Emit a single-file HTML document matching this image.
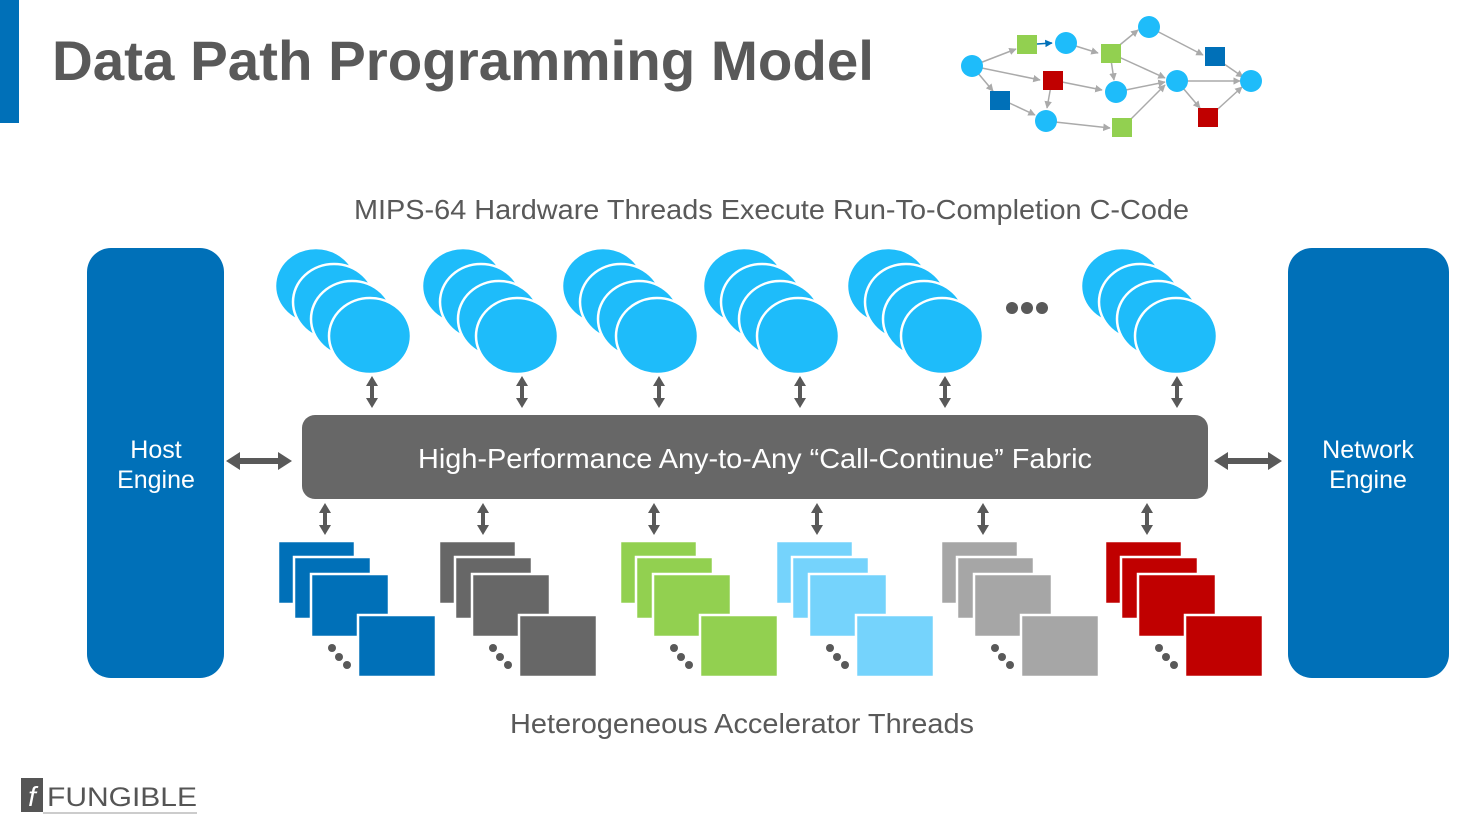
<!DOCTYPE html>
<html><head><meta charset="utf-8"><style>
body{margin:0;background:#fff;width:1466px;height:821px;overflow:hidden}
svg{display:block}
text{font-family:"Liberation Sans",Arial,sans-serif}
</style></head><body>
<svg width="1466" height="821" viewBox="0 0 1466 821" xmlns="http://www.w3.org/2000/svg">
<defs>
<marker id="g" viewBox="0 0 10 10" refX="9" refY="5" markerWidth="5" markerHeight="5" orient="auto"><path d="M0,0L10,5L0,10z" fill="#aaa"/></marker>
<marker id="b" viewBox="0 0 10 10" refX="9" refY="5" markerWidth="5" markerHeight="5" orient="auto"><path d="M0,0L10,5L0,10z" fill="#0070b8"/></marker>
</defs>
<rect x="0" y="0" width="19" height="123" fill="#0070b8"/>
<text x="52" y="80" font-size="56" font-weight="bold" fill="#595959" textLength="822" lengthAdjust="spacingAndGlyphs">Data Path Programming Model</text>
<g stroke="#aaa" stroke-width="1.5" fill="none" marker-end="url(#g)">
<line x1="972" y1="66" x2="1016" y2="49"/>
<line x1="972" y1="66" x2="1040" y2="80"/>
<line x1="972" y1="66" x2="993" y2="91"/>
<line x1="1005" y1="101" x2="1035" y2="115"/>
<line x1="1052" y1="80" x2="1102" y2="90"/>
<line x1="1052" y1="80" x2="1047" y2="108"/>
<line x1="1066" y1="43" x2="1098" y2="53"/>
<line x1="1110" y1="53" x2="1138" y2="30"/>
<line x1="1110" y1="53" x2="1114" y2="80"/>
<line x1="1110" y1="53" x2="1165" y2="78"/>
<line x1="1116" y1="92" x2="1165" y2="82"/>
<line x1="1046" y1="121" x2="1110" y2="128"/>
<line x1="1122" y1="128" x2="1165" y2="85"/>
<line x1="1149" y1="27" x2="1203" y2="55"/>
<line x1="1214" y1="57" x2="1243" y2="77"/>
<line x1="1177" y1="81" x2="1240" y2="81"/>
<line x1="1177" y1="81" x2="1200" y2="108"/>
<line x1="1208" y1="118" x2="1242" y2="87"/>
</g>
<line x1="1037" y1="44" x2="1052" y2="43" stroke="#0070b8" stroke-width="1.5" marker-end="url(#b)"/>
<g fill="#1ebcfa">
<circle cx="972" cy="66" r="11"/><circle cx="1066" cy="43" r="11"/><circle cx="1149" cy="27" r="11"/>
<circle cx="1116" cy="92" r="11"/><circle cx="1046" cy="121" r="11"/><circle cx="1177" cy="81" r="11"/><circle cx="1251" cy="81" r="11"/>
</g>
<rect x="1017" y="35" width="20" height="19" fill="#92d050"/>
<rect x="1101" y="44" width="20" height="19" fill="#92d050"/>
<rect x="1112" y="118" width="20" height="19" fill="#92d050"/>
<rect x="1043" y="71" width="20" height="19" fill="#c00000"/>
<rect x="1198" y="108" width="20" height="19" fill="#c00000"/>
<rect x="990" y="91" width="20" height="19" fill="#0070b8"/>
<rect x="1205" y="47" width="20" height="19" fill="#0070b8"/>

<text x="354" y="219" font-size="28" fill="#595959" textLength="835" lengthAdjust="spacingAndGlyphs">MIPS-64 Hardware Threads Execute Run-To-Completion C-Code</text>
<text x="510" y="733" font-size="28" fill="#595959" textLength="464" lengthAdjust="spacingAndGlyphs">Heterogeneous Accelerator Threads</text>

<rect x="87" y="248" width="137" height="430" rx="24" fill="#0070b8"/>
<rect x="1288" y="248" width="161" height="430" rx="24" fill="#0070b8"/>
<text x="156" y="458" font-size="25" fill="#fff" text-anchor="middle">Host</text>
<text x="156" y="488" font-size="25" fill="#fff" text-anchor="middle">Engine</text>
<text x="1368" y="458" font-size="25" fill="#fff" text-anchor="middle">Network</text>
<text x="1368" y="488" font-size="25" fill="#fff" text-anchor="middle">Engine</text>

<rect x="302" y="415" width="906" height="84" rx="13" fill="#676767"/>
<text x="418" y="468" font-size="28" fill="#fff" textLength="674" lengthAdjust="spacingAndGlyphs">High-Performance Any-to-Any “Call-Continue” Fabric</text>

<g fill="#595959">
<path d="M226,461 l14,-9 v6 h38 v-6 l14,9 l-14,9 v-6 h-38 v6z"/>
<path d="M1214,461 l14,-9 v6 h40 v-6 l14,9 l-14,9 v-6 h-40 v6z"/>
</g>

<g id="circ">
<g fill="#1ebcfa" stroke="#fff" stroke-width="2.5">
<ellipse cx="316" cy="286" rx="41" ry="38"/>
<ellipse cx="334" cy="302" rx="41" ry="38"/>
<ellipse cx="352" cy="319" rx="41" ry="38"/>
<ellipse cx="370" cy="336" rx="41" ry="38"/>
</g>
</g>
<use href="#circ" x="147"/>
<use href="#circ" x="287"/>
<use href="#circ" x="428"/>
<use href="#circ" x="572"/>
<use href="#circ" x="806"/>
<g fill="#595959"><circle cx="1012" cy="308" r="6"/><circle cx="1027" cy="308" r="6"/><circle cx="1042" cy="308" r="6"/></g>

<g fill="#595959" id="va">
<path d="M372,376 l-6,10 h4 v12 h-4 l6,10 l6,-10 h-4 v-12 h4z"/>
</g>
<use href="#va" x="150"/><use href="#va" x="287"/><use href="#va" x="428"/><use href="#va" x="573"/><use href="#va" x="805"/>
<use href="#va" x="-47" y="127"/><use href="#va" x="111" y="127"/><use href="#va" x="282" y="127"/><use href="#va" x="445" y="127"/><use href="#va" x="611" y="127"/><use href="#va" x="775" y="127"/>

<g id="sq" stroke="#fff" stroke-width="2.5">
<rect x="278" y="541" width="77" height="63"/>
<rect x="294" y="557" width="77" height="62"/>
<rect x="311" y="574" width="78" height="63"/>
<rect x="358" y="615" width="78" height="62"/>
</g>
<g fill="#0070b8"><use href="#sq"/></g>
<g fill="#676767"><use href="#sq" x="161"/></g>
<g fill="#92d050"><use href="#sq" x="342"/></g>
<g fill="#75d3fc"><use href="#sq" x="498"/></g>
<g fill="#a6a6a6"><use href="#sq" x="663"/></g>
<g fill="#c00000"><use href="#sq" x="827"/></g>
<g fill="#595959" id="dots"><circle cx="332" cy="648" r="4"/><circle cx="339" cy="657" r="4"/><circle cx="347" cy="665" r="4"/></g>
<use href="#dots" x="161"/><use href="#dots" x="342"/><use href="#dots" x="498"/><use href="#dots" x="663"/><use href="#dots" x="827"/>

<rect x="21" y="778" width="22" height="34" fill="#555"/>
<text x="32" y="806" font-size="28" font-style="italic" fill="#fff" text-anchor="middle" font-family="Liberation Serif">f</text>
<text x="47" y="806" font-size="27" fill="#555" textLength="150" lengthAdjust="spacingAndGlyphs">FUNGIBLE</text>
<line x1="43" y1="813" x2="197" y2="813" stroke="#999" stroke-width="1"/>
</svg>
</body></html>
